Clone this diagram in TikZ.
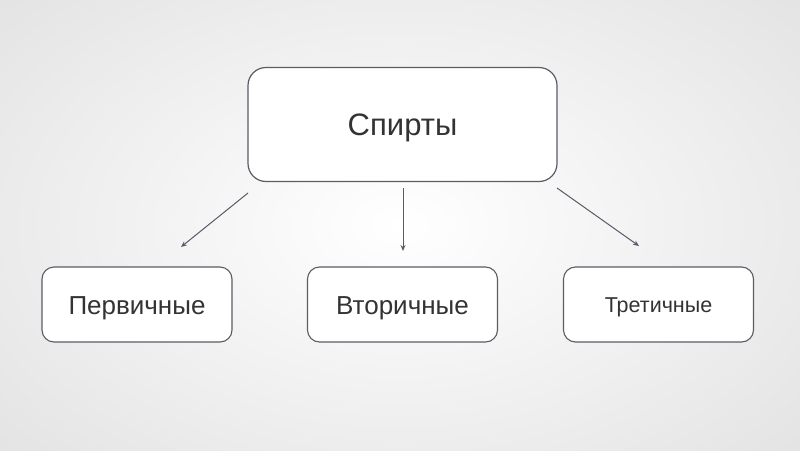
\documentclass[tikz,border=0pt]{standalone}
\usepackage{fontspec}
\setmainfont{Liberation Sans}
\usetikzlibrary{arrows.meta}
\definecolor{bordc}{HTML}{5C5B66}
\definecolor{txtc}{HTML}{333333}
\definecolor{arrc}{HTML}{5A5A6A}
\tikzset{
  topbox/.style={draw=bordc, line width=1.2pt, fill=white, rounded corners=18pt, minimum width=309pt, minimum height=114pt, inner sep=0pt},
  subbox/.style={draw=bordc, line width=1.1pt, fill=white, rounded corners=12pt, minimum width=190pt, minimum height=75pt, inner sep=0pt},
  lbl/.style={text=txtc, inner sep=0pt, yshift=-3.5pt}
}
\tikzset{conn/.style={draw=arrc, line width=1pt, -{Stealth[length=6pt,width=5pt]}}}
\begin{document}
\begin{tikzpicture}[x=1pt,y=-1pt]
\useasboundingbox (0,0) rectangle (800,450);
\shade[inner color=white, outer color=black!11] (-150,-120) rectangle (950,570);
\node[topbox, label={[lbl, font=\fontsize{31}{36}\selectfont]center:Спирты}] (top) at (402.5,124.5) {};
\node[subbox, label={[lbl, font=\fontsize{26}{30}\selectfont]center:Первичные}] (p) at (137,304.5) {};
\node[subbox, label={[lbl, font=\fontsize{26}{30}\selectfont]center:Вторичные}] (v) at (402.5,304.5) {};
\node[subbox, label={[lbl, yshift=1pt, font=\fontsize{21.5}{25}\selectfont]center:Третичные}] (t) at (658.5,304.5) {};
\coordinate (a1s) at (248,193);
\coordinate (a1e) at (181,247);
\coordinate (a2s) at (403,188);
\coordinate (a2e) at (403,251);
\coordinate (a3s) at (557,188);
\coordinate (a3e) at (639,246);
\draw[conn] (a1s) -- (a1e);
\draw[conn] (a2s) -- (a2e);
\draw[conn] (a3s) -- (a3e);
\end{tikzpicture}
\end{document}
